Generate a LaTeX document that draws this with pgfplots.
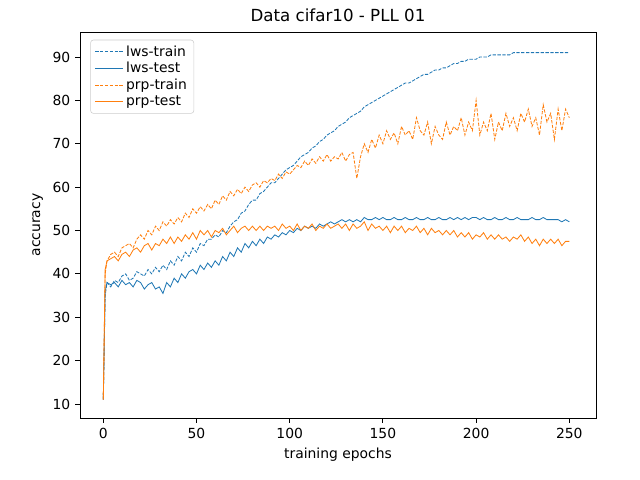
\documentclass[border=0pt]{standalone}
\usepackage{pgfplots}
\pgfplotsset{compat=1.18}
\usepackage{pgfplotstable}
\usepackage{fontspec}
\setmainfont{DejaVu Sans}
\definecolor{cA}{HTML}{1F77B4}
\definecolor{cB}{HTML}{FF7F0E}
\pgfplotstableread{
x lt lte pt pte
0 11 11 11 11
1 35 36 40 41
2 38 38 43 43
4 37 37.5 44.5 43.5
6 38.5 38 45 44
8 38 37 44 43
10 39.5 38.5 46 44.5
12 40 37.5 46.5 45
14 38.5 38 47 44
16 39 37 46 45.5
18 40.5 38.5 48 46
20 40 38 49 45
22 39.5 36.5 48 46.5
24 41 37.5 50 47
26 40 38 49 45.5
28 41.5 36.5 51 47
30 40.5 37 50 46.5
32 42 35.5 52 48
34 41 38 51 47
36 43 37 52.5 48.5
38 42 39 51.5 47
40 44 38 53 48.5
42 43 40 52 47.5
44 45 39 54 49
46 44 40.5 53 48
48 46 41 55 49.5
50 45 40 54 48
52 47 42 55.5 50
54 46.5 41 54.5 49
56 48 42.5 56 50
58 48 41.5 55 48.5
60 49 43 57 50
62 48.5 42 56 49.5
64 50 44 58 50.5
66 49.5 43 57 49
68 51 45 59 50
70 52 44 58 51
72 52.5 46 59.5 49.5
74 54 45 58.5 50.5
76 54.5 47 60 51
78 56 46 59 50
80 57 47.5 60.5 51
82 57 46.5 61 50
84 58.5 48 60 51
86 59 47 61.5 50
88 60 48.5 61 51
90 61 48 62 50.5
92 61 49 61.5 51
94 62 48.5 63 50
96 63 49.5 62 51.5
98 64 49 63.5 50.5
100 64.5 50 63 51
102 65 49.5 64 50
104 66 50.5 65 51.5
106 67 50 64.5 50
108 67.5 51 66 51
110 68 50.5 65 50.5
112 69 51 66.5 51.5
114 69.5 50.5 65.5 50
116 70.5 51.5 67 51
118 71 51 66 50.5
120 72 51.5 67.5 51.5
122 72.5 52 66 50.5
124 73 51.5 67 51
126 74 52 66.5 51.5
128 74.5 52.5 68 50.5
130 75 52 66 51.5
132 76 52.5 67.5 50
134 76.5 52 68 51.5
136 77 52.5 62 50.5
138 77.5 52 67 51
140 78.5 53 70 52
142 79 52.5 68 50
144 79.5 52.5 71 51.5
146 80 53 69 50.5
148 80.5 52.5 72 51
150 81 53 70 50
152 81.5 52.5 73 51
154 82 52.5 71 49.5
156 82.5 53 72.5 51
158 83 52.5 70 50
160 83.5 52.5 74 51
162 84 53 72 49.5
164 84 52.5 73 50.5
166 84.5 52.5 71 50
168 85 53 76 51
170 85.5 52.5 73 49.5
172 86 52.5 72 50.5
174 86 53 75 49
176 86.5 52.5 70 50.5
178 87 52.5 74 49.5
180 87 53 72 50
182 87.5 52.5 71 49
184 87.5 52.5 75 50
186 88 53 72 49
188 88.5 52.5 74 50
190 88.5 53 73 48.5
192 89 52.5 76 49.5
194 89 53 72 48.5
196 89.5 52.5 75 49.5
198 89.5 53 73 48
200 89.5 53 80 49
202 90 52.5 72 48.5
204 90 53 75 49.5
206 90 52.5 73 48
208 90.5 52.5 77 49
210 90.5 53 71 48
212 90.5 52.5 75 49
214 90.5 52.5 73 48
216 90.5 53 77 48.5
218 90.5 52.5 74 47.5
220 91 52.5 76 48.5
222 91 53 73 48
224 91 52.5 77 49
226 91 52.5 75 47.5
228 91 52.5 78 48.5
230 91 53 74 47
232 91 52.5 76 48
234 91 52.5 72 46.5
236 91 53 79 48
238 91 52.5 75 47
240 91 52.5 77 48
242 91 52.5 71 47
244 91 52.5 78 48
246 91 52 73 46.5
248 91 52.5 78 47.5
250 91 52 76 47.5
}\data
\begin{document}
\begin{tikzpicture}
\useasboundingbox (-57.6pt,-44.64pt) rectangle (403.2pt,300.96pt);
\begin{axis}[
  scale only axis, width=371.5pt, height=277.9pt,
  xmin=-12.5, xmax=264.3, ymin=6.77, ymax=95.76,
  xtick={0,50,100,150,200,250}, ytick={10,20,...,90},
  tick align=outside, xtick pos=bottom, ytick pos=left,
  major tick length=3.5pt,
  tick style={black, line width=0.6pt},
  axis line style={line width=0.6pt},
  /pgf/number format/assume math mode=true,
  ticklabel style={font=\fontsize{10}{12}\selectfont},
  label style={font=\fontsize{10}{12}\selectfont},
  xlabel={training epochs}, ylabel={accuracy},
  title={Data cifar10 - PLL 01},
  title style={font=\fontsize{12}{14}\selectfont, yshift=-2pt},
  legend style={font=\fontsize{10}{12}\selectfont, draw=black!20, rounded corners=2pt, at={(0.02,0.98)}, anchor=north west, row sep=-1pt},
  legend cell align=left,
  legend image code/.code={\draw[#1] (0pt,0pt) -- (20pt,0pt);},
  every axis plot/.append style={line width=0.6pt},
]
\addplot[cA, dash pattern=on 2.4pt off 1.1pt] table[x=x,y=lt]{\data};
\addlegendentry{lws-train}
\addplot[cA] table[x=x,y=lte]{\data};
\addlegendentry{lws-test}
\addplot[cB, dash pattern=on 2.4pt off 1.1pt] table[x=x,y=pt]{\data};
\addlegendentry{prp-train}
\addplot[cB] table[x=x,y=pte]{\data};
\addlegendentry{prp-test}
\end{axis}
\end{tikzpicture}
\end{document}
